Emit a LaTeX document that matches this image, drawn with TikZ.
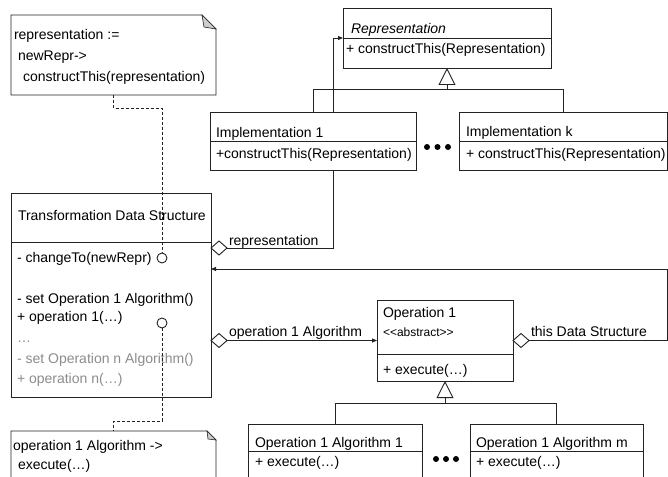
\documentclass[tikz,border=0pt]{standalone}
\usepackage{fontspec}
\setmainfont{Liberation Sans}
\usetikzlibrary{arrows.meta,calc,shapes.geometric}
\pgfdeclarelayer{paper}
\pgfdeclarelayer{wires}
\pgfsetlayers{paper,wires,main}
\definecolor{ink}{RGB}{35,35,35}
\definecolor{dimtext}{RGB}{140,140,140}
\definecolor{foldgray}{RGB}{205,205,205}

\begin{document}
\begin{tikzpicture}[x=1pt,y=-1pt,
  umlbox/.style={draw=ink,line width=0.9pt,fill=white,inner sep=0pt,outer sep=0pt,anchor=north west},
  notebody/.style={inner sep=0pt,outer sep=0pt,anchor=north west},
  lbl/.style={anchor=base west,inner sep=0pt,outer sep=0pt,font=\fontsize{14}{16}\selectfont},
  dimlbl/.style={lbl,text=dimtext},
  tinylbl/.style={lbl,font=\fontsize{12}{14}\selectfont},
  wire/.style={draw=ink,line width=0.9pt},
  trace/.style={draw=ink,line width=0.9pt,dash pattern=on 3pt off 2pt},
  agg/.style={diamond,draw=ink,line width=0.9pt,fill=white,inner sep=0pt,outer sep=0pt,
              minimum width=16pt,minimum height=14pt,anchor=west},
  arrowtip/.style={-{Triangle[length=5pt,width=4pt]}},
  genarrow/.style={-{Triangle[open,length=17pt,width=17pt,fill=white]}},
  portcircle/.style={circle,draw=ink,line width=0.9pt,fill=white,inner sep=0pt,minimum size=10pt},
  bullet/.style={circle,fill=black,inner sep=0pt,minimum size=6pt},
]
\useasboundingbox (0,0) rectangle (668,476);
\begin{pgfonlayer}{paper}
  \fill[white] (0,0) rectangle (668,476);
\end{pgfonlayer}

% ---------- class boxes ----------
\node[umlbox,minimum width=208pt,minimum height=60pt] (rep) at (343,8) {};
\node[umlbox,minimum width=206pt,minimum height=58pt] (impl1) at (210,112) {};
\node[umlbox,minimum width=208pt,minimum height=58pt] (implk) at (459,112) {};
\node[umlbox,minimum width=200pt,minimum height=204pt] (tds) at (11,193) {};
\node[umlbox,minimum width=136pt,minimum height=81pt] (op) at (377,300) {};
\node[umlbox,minimum width=174pt,minimum height=70pt] (alg1) at (248,424) {};
\node[umlbox,minimum width=173pt,minimum height=70pt] (algm) at (470,424) {};

% compartment separators
\draw[wire] ([yshift=-30pt]rep.north west) -- ([yshift=-30pt]rep.north east);
\draw[wire] ([yshift=-29pt]impl1.north west) -- ([yshift=-29pt]impl1.north east);
\draw[wire] ([yshift=-29pt]implk.north west) -- ([yshift=-29pt]implk.north east);
\draw[wire] ([yshift=-49pt]tds.north west) -- ([yshift=-49pt]tds.north east);
\draw[wire] ([yshift=-54pt]op.north west) -- ([yshift=-54pt]op.north east);
\draw[wire] ([yshift=-27pt]alg1.north west) -- ([yshift=-27pt]alg1.north east);
\draw[wire] ([yshift=-27pt]algm.north west) -- ([yshift=-27pt]algm.north east);

% ---------- notes with folded corner ----------
\node[notebody,minimum width=205pt,minimum height=80pt] (n1) at (11,15) {};
\node[notebody,minimum width=205pt,minimum height=70pt] (n2) at (11,431) {};
\draw[wire,fill=white] (n1.north west) -- ([xshift=-14pt]n1.north east)
  -- ([yshift=-14pt]n1.north east) -- (n1.south east) -- (n1.south west) -- cycle;
\draw[wire,fill=foldgray,line width=0.6pt] ([xshift=-14pt]n1.north east)
  -- ([xshift=-12pt,yshift=-12pt]n1.north east) -- ([yshift=-14pt]n1.north east) -- cycle;
\draw[wire,fill=white] (n2.north west) -- ([xshift=-9pt]n2.north east)
  -- ([yshift=-9pt]n2.north east) -- (n2.south east) -- (n2.south west) -- cycle;
\draw[wire,fill=foldgray,line width=0.6pt] ([xshift=-9pt]n2.north east)
  -- ([xshift=-8pt,yshift=-8pt]n2.north east) -- ([yshift=-9pt]n2.north east) -- cycle;

% ---------- texts ----------
\node[lbl] (n1a) at (14,40) {representation :=};
\node[lbl] (n1b) at (18,61) {newRepr->};
\node[lbl] (n1c) at (23,82) {constructThis(representation)};

\node[lbl,font=\fontsize{14}{16}\selectfont\itshape] (repname) at (351,34) {Representation};
\node[lbl] (repop) at (346,54) {+ constructThis(Representation)};

\node[lbl] (impl1name) at (216,137) {Implementation 1};
\node[lbl] (impl1op) at (216,158) {+constructThis(Representation)};
\node[lbl] (implkname) at (466,136) {Implementation k};
\node[lbl] (implkop) at (466,158) {+ constructThis(Representation)};

\node[lbl] (tdsname) at (18,220) {Transformation Data Structure};
\node[lbl] (tds1) at (17,262) {- changeTo(newRepr)};
\node[lbl] (tds2) at (17,303) {- set Operation 1 Algorithm()};
\node[lbl] (tds3) at (17,321) {+ operation 1(…)};
\node[dimlbl] (tds4) at (17,342) {…};
\node[dimlbl] (tds5) at (17,363) {- set Operation n Algorithm()};
\node[dimlbl] (tds6) at (17,383) {+ operation n(…)};

\node[lbl] (opname) at (383,317) {Operation 1};
\node[tinylbl] (opstereo) at (383,336) {<\kern0pt<abstract>\kern0pt>};
\node[lbl] (opexec) at (383,374) {+ execute(…)};

\node[lbl] (alg1name) at (255,447) {Operation 1 Algorithm 1};
\node[lbl] (alg1exec) at (255,466) {+ execute(…)};
\node[lbl] (algmname) at (476,447) {Operation 1 Algorithm m};
\node[lbl] (algmexec) at (476,466) {+ execute(…)};

\node[lbl] (n2a) at (13,450) {operation 1 Algorithm ->};
\node[lbl] (n2b) at (18,469) {execute(…)};

% ---------- ellipsis bullets ----------
\node[bullet] (dk1) at (427,147) {};
\node[bullet] (dk2) at (437.5,147) {};
\node[bullet] (dk3) at (448,147) {};
\node[bullet] (dm1) at (436,459) {};
\node[bullet] (dm2) at (446,459) {};
\node[bullet] (dm3) at (456,459) {};

% ---------- aggregation diamonds ----------
\coordinate (repy) at (0,248);
\node[agg] (d1) at (tds.east |- repy) {};
\node[agg] (d2) at (tds.east |- op.west) {};
\node[agg] (d3) at (op.east) {};

\node[lbl] (l1) at (229,245) {representation};
\node[lbl] (l2) at (229,336) {operation 1 Algorithm};
\node[lbl] (l3) at (531,336) {this Data Structure};

% ---------- connectors ----------
\begin{pgfonlayer}{wires}
  \draw[wire,arrowtip] (d1.east) -| ([xshift=-10pt]rep.west) -- (rep.west);
\end{pgfonlayer}
\draw[wire,arrowtip] (d2.east) -- (op.west);
\coordinate (loopcorner) at (667,269);
\draw[wire,arrowtip] (d3.east) -| (loopcorner) -- (tds.east |- loopcorner);

% generalizations
\draw[wire,genarrow] (impl1.north) |- ($(rep.south)+(0,21)$) -- (rep.south);
\draw[wire] (implk.north) |- ($(rep.south)+(0,21)$);
\draw[wire,genarrow] (alg1.north) |- ($(op.south)+(0,22)$) -- (op.south);
\draw[wire] (algm.north) |- ($(op.south)+(0,22)$);

% ---------- note anchors on the data structure ----------
\node[portcircle] (c1) at (162,258) {};
\node[portcircle] (c2) at (162,323) {};
\draw[trace] (n1.south) -- ++(0,13) -| (c1.north);
\draw[trace] (c2.south) |- ($(n2.north)+(0,-10)$) -- (n2.north);
\end{tikzpicture}
\end{document}
